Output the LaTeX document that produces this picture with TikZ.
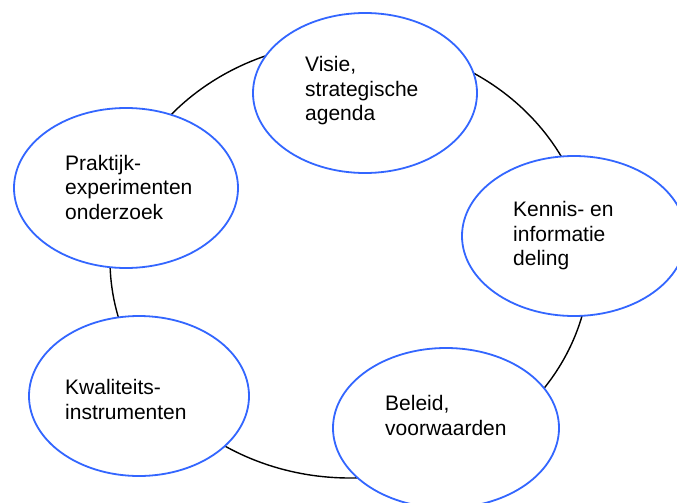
\documentclass[tikz,border=0pt]{standalone}
\usepackage{fontspec}
\setmainfont{Liberation Sans}
\usetikzlibrary{shapes.geometric}
\definecolor{bluering}{RGB}{51,102,255}
\begin{document}
\begin{tikzpicture}[x=1pt,y=-1pt,
  bubble/.style={ellipse,draw=bluering,line width=1.8pt,fill=white,inner sep=0pt,minimum width=224pt,minimum height=160pt},
  ringstyle/.style={ellipse,draw=black,line width=1.4pt,inner sep=0pt,minimum width=480pt,minimum height=436pt},
  label/.style={anchor=west,align=left,inner sep=0pt,font=\fontsize{21pt}{24.5pt}\selectfont}]
\useasboundingbox (0,0) rectangle (677,503);
\clip (0,0) rectangle (677,503);
\node[ringstyle] (ring) at (350,260) {};
\node[bubble] (visie) at (365,93) {};
\node[bubble] (kennis) at (574,236) {};
\node[bubble,minimum width=226pt] (beleid) at (446,428) {};
\node[bubble,minimum width=220pt] (kwal) at (139,396) {};
\node[bubble] (prak) at (126,188) {};
\node[label] (tvisie) at (305,91) {Visie,\\strategische\\agenda};
\node[label] (tkennis) at (513,236) {Kennis- en\\informatie\\deling};
\node[label] (tbeleid) at (385,415.5) {Beleid,\\voorwaarden};
\node[label] (tkwal) at (65,399.5) {Kwaliteits-\\instrumenten};
\node[label] (tprak) at (65,187) {Praktijk-\\experimenten\\onderzoek};
\end{tikzpicture}
\end{document}
